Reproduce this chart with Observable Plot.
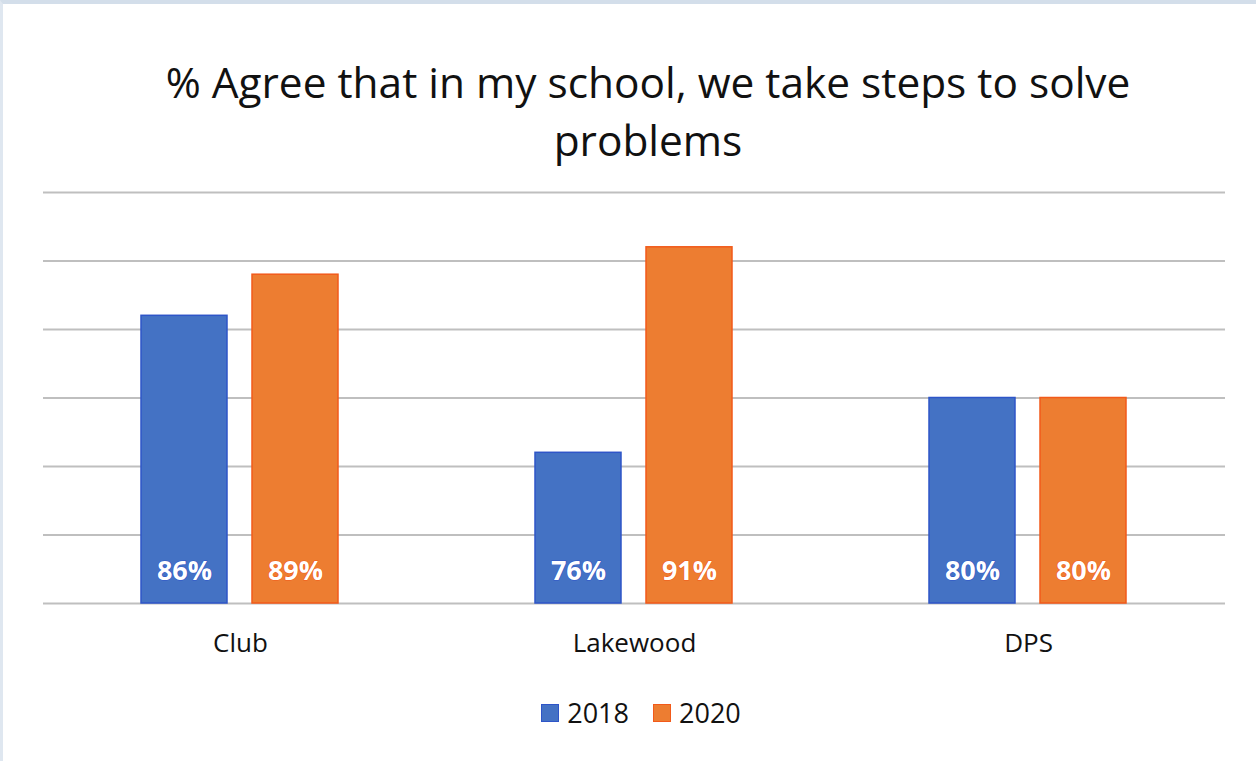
<!DOCTYPE html>
<html>
<head>
<meta charset="utf-8">
<script src="https://cdn.jsdelivr.net/npm/d3@7"></script>
<script src="https://cdn.jsdelivr.net/npm/@observablehq/plot@0.6"></script>
<style>
  html, body { margin: 0; padding: 0; background: #fff; }
  #frame { position: relative; width: 1256px; height: 761px; overflow: hidden; background: #fff;
           box-sizing: border-box; border-top: 4px solid #d3deea; border-left: 3px solid #dfe7f0; font-family: "Open Sans", sans-serif; }
  #title { position: absolute; left: 0; width: 1290px; top: 49px; text-align: center; font-size: 42.4px; line-height: 58px; color: #111; }
  #chart { position: absolute; left: -6px; top: 162px; }
  #legend { position: absolute; top: 690px; left: 0; width: 1276px; display: flex; justify-content: center; gap: 24px; font-size: 27px; color: #111; }
  .item { display: flex; align-items: center; gap: 8px; }
  .sw { width: 18px; height: 18px; box-sizing: border-box; border: 1.5px solid; }
</style>
</head>
<body>
<div id="frame">
  <div id="title">% Agree that in my school, we take steps to solve<br>problems</div>
  <div id="chart"></div>
  <div id="legend"></div>
</div>
<script>
const categories = ["Club", "Lakewood", "DPS"];
const years = ["2018", "2020"];
const values2018 = [86, 76, 80];
const values2020 = [89, 91, 80];
const yTicks = [65, 70, 75, 80, 85, 90, 95];
const fills = ["#4472C4", "#ED7D31"];
const strokes = ["#2E55C8", "#F25A1A"];

const yMin = yTicks[0];
const data = [];
categories.forEach((c, i) => {
  data.push({category: c, year: years[0], value: values2018[i]});
  data.push({category: c, year: years[1], value: values2020[i]});
});

const chart = Plot.plot({
  width: 1259,
  height: 514,
  marginTop: 26,
  marginBottom: 77,
  marginLeft: 45,
  marginRight: 30,
  style: {fontFamily: "Open Sans, sans-serif", background: "transparent"},
  fx: {domain: categories, padding: 0, label: null},
  x: {domain: years, paddingInner: 0.223, paddingOuter: 0.874, axis: null},
  y: {domain: [yTicks[0], yTicks[yTicks.length - 1]], axis: null},
  color: {domain: years, range: fills},
  marks: [
    Plot.gridY(yTicks, {stroke: "#bfbfbf", strokeOpacity: 1, strokeWidth: 2}),
    Plot.barY(data, {fx: "category", x: "year", y1: yMin, y2: "value", fill: "year",
      stroke: d => strokes[years.indexOf(d.year)], strokeWidth: 1.5}),
    Plot.text(data, {fx: "category", x: "year", y: yMin, dy: -32, text: d => d.value + "%",
      fill: "white", fontWeight: "bold", fontSize: 27,
      stroke: d => strokes[years.indexOf(d.year)], strokeWidth: 1.2, paintOrder: "stroke"}),
    Plot.axisFx({anchor: "bottom", tickSize: 0, tickPadding: 30, fontSize: 26, label: null, fill: "#111"})
  ]
});
document.getElementById("chart").appendChild(chart);

const legend = document.getElementById("legend");
years.forEach((y, i) => {
  const item = document.createElement("div");
  item.className = "item";
  const sw = document.createElement("div");
  sw.className = "sw";
  sw.style.background = fills[i];
  sw.style.borderColor = strokes[i];
  const t = document.createElement("span");
  t.textContent = y;
  item.appendChild(sw);
  item.appendChild(t);
  legend.appendChild(item);
});
</script>
</body>
</html>
